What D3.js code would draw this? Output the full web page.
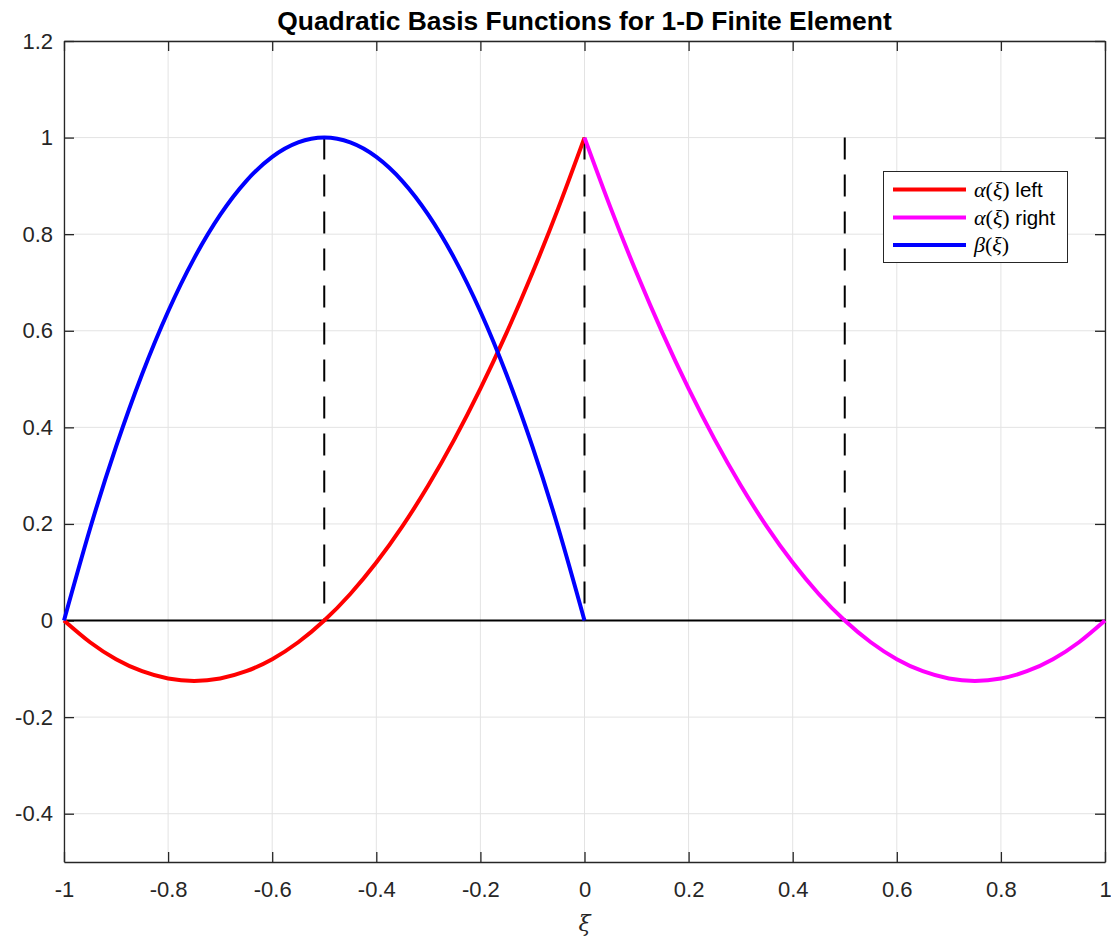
<!DOCTYPE html>
<html>
<head>
<meta charset="utf-8">
<script src="https://cdn.jsdelivr.net/npm/d3@7"></script>
<style>
  html, body { margin: 0; padding: 0; background: #fff; }
  svg { display: block; }
</style>
</head>
<body>
<svg id="chart" width="1111" height="942"></svg>
<script>
// Sample points of the quadratic basis functions
const xiLeft  = [-1, -0.95, -0.9, -0.85, -0.8, -0.75, -0.7, -0.65, -0.6, -0.55, -0.5,
                 -0.45, -0.4, -0.35, -0.3, -0.25, -0.2, -0.15, -0.1, -0.05, 0];
const xiRight = [0, 0.05, 0.1, 0.15, 0.2, 0.25, 0.3, 0.35, 0.4, 0.45, 0.5,
                 0.55, 0.6, 0.65, 0.7, 0.75, 0.8, 0.85, 0.9, 0.95, 1];
const alphaLeft  = [0, -0.045, -0.08, -0.105, -0.12, -0.125, -0.12, -0.105, -0.08, -0.045, 0,
                    0.055, 0.12, 0.195, 0.28, 0.375, 0.48, 0.595, 0.72, 0.855, 1];
const alphaRight = [1, 0.855, 0.72, 0.595, 0.48, 0.375, 0.28, 0.195, 0.12, 0.055, 0,
                    -0.045, -0.08, -0.105, -0.12, -0.125, -0.12, -0.105, -0.08, -0.045, 0];
const betaVals   = [0, 0.19, 0.36, 0.51, 0.64, 0.75, 0.84, 0.91, 0.96, 0.99, 1,
                    0.99, 0.96, 0.91, 0.84, 0.75, 0.64, 0.51, 0.36, 0.19, 0];

// Node markers (dashed verticals) and tick values
const nodeXi = [-0.5, 0, 0.5];
const xTicks = [-1, -0.8, -0.6, -0.4, -0.2, 0, 0.2, 0.4, 0.6, 0.8, 1];
const yTicks = [-0.4, -0.2, 0, 0.2, 0.4, 0.6, 0.8, 1, 1.2];

const titleText = "Quadratic Basis Functions for 1-D Finite Element";

const svg = d3.select("#chart");
const L = 64, R = 1105, T = 41, B = 862;

const x = d3.scaleLinear().domain([-1, 1]).range([L, R]);
const y = d3.scaleLinear().domain([-0.5, 1.2]).range([B, T]);

const axisColor = "#262626";
const font = "'Liberation Sans', Arial, Helvetica, sans-serif";
const fmt = d => String(d);   // plain hyphen-minus labels

// grid
const grid = svg.append("g");
grid.selectAll("line.gx").data(xTicks).join("line")
  .attr("x1", d => x(d)).attr("x2", d => x(d))
  .attr("y1", T).attr("y2", B)
  .attr("stroke", "#e3e3e3").attr("stroke-width", 1);
grid.selectAll("line.gy").data(yTicks).join("line")
  .attr("x1", L).attr("x2", R)
  .attr("y1", d => y(d)).attr("y2", d => y(d))
  .attr("stroke", "#e3e3e3").attr("stroke-width", 1);

// axes (ticks pointing inward, box on)
const tickLen = 10;
const axB = svg.append("g").attr("transform", `translate(0,${B})`)
  .call(d3.axisBottom(x).tickValues(xTicks).tickSizeInner(-tickLen).tickSizeOuter(0)
        .tickPadding(19).tickFormat(fmt));
const axT = svg.append("g").attr("transform", `translate(0,${T})`)
  .call(d3.axisTop(x).tickValues(xTicks).tickSizeInner(-tickLen).tickSizeOuter(0).tickFormat(""));
const axL = svg.append("g").attr("transform", `translate(${L},0)`)
  .call(d3.axisLeft(y).tickValues(yTicks).tickSizeInner(-tickLen).tickSizeOuter(0)
        .tickPadding(11).tickFormat(fmt));
const axR = svg.append("g").attr("transform", `translate(${R},0)`)
  .call(d3.axisRight(y).tickValues(yTicks).tickSizeInner(-tickLen).tickSizeOuter(0).tickFormat(""));

[axB, axT, axL, axR].forEach(a => {
  a.attr("font-size", 22).attr("font-family", font);
  a.select(".domain").attr("stroke", axisColor).attr("stroke-width", 1.3);
  a.selectAll(".tick line").attr("stroke", axisColor).attr("stroke-width", 1.3);
  a.selectAll(".tick text").attr("fill", axisColor);
});
axB.selectAll(".tick text").attr("dy", "0.71em");

// zero line
svg.append("line")
  .attr("x1", x(-1)).attr("x2", x(1))
  .attr("y1", y(0)).attr("y2", y(0))
  .attr("stroke", "#000").attr("stroke-width", 2);

// dashed node lines
svg.selectAll("line.node").data(nodeXi).join("line")
  .attr("x1", d => x(d)).attr("x2", d => x(d))
  .attr("y1", y(1)).attr("y2", y(0))
  .attr("stroke", "#000").attr("stroke-width", 2)
  .attr("stroke-dasharray", "22 15");

// curves
const line = d3.line().x(d => x(d[0])).y(d => y(d[1])).curve(d3.curveNatural);
const series = [
  { xs: xiLeft,  ys: alphaLeft,  color: "#ff0000" },
  { xs: xiRight, ys: alphaRight, color: "#ff00ff" },
  { xs: xiLeft,  ys: betaVals,   color: "#0000ff" }
];
series.forEach(s => {
  svg.append("path")
    .datum(d3.zip(s.xs, s.ys))
    .attr("d", line)
    .attr("fill", "none")
    .attr("stroke", s.color)
    .attr("stroke-width", 4)
    .attr("stroke-linejoin", "round");
});

// title
svg.append("text")
  .attr("x", (L + R) / 2).attr("y", 30)
  .attr("text-anchor", "middle")
  .attr("font-family", font).attr("font-weight", "bold").attr("font-size", 26.4)
  .attr("fill", "#000")
  .text(titleText);

// x label
svg.append("text")
  .attr("x", x(0)).attr("y", 931)
  .attr("text-anchor", "middle")
  .attr("font-family", "'DejaVu Serif', 'Liberation Serif', serif")
  .attr("font-style", "italic").attr("font-size", 22)
  .attr("fill", axisColor)
  .text("ξ");

// legend
const legendItems = [
  { sym: "α", tail: " left",  color: "#ff0000" },
  { sym: "α", tail: " right", color: "#ff00ff" },
  { sym: "β", tail: "",       color: "#0000ff" }
];
const lg = svg.append("g");
lg.append("rect")
  .attr("x", 883.5).attr("y", 171.5).attr("width", 184).attr("height", 91)
  .attr("fill", "#fff").attr("stroke", axisColor).attr("stroke-width", 1);
const rowY = [189.5, 217.5, 245];
const serif = "'Liberation Serif', 'DejaVu Serif', serif";
legendItems.forEach((d, i) => {
  lg.append("line")
    .attr("x1", 893).attr("x2", 966)
    .attr("y1", rowY[i]).attr("y2", rowY[i])
    .attr("stroke", d.color).attr("stroke-width", 4);
  const t = lg.append("text")
    .attr("x", 974).attr("y", rowY[i] + 7)
    .attr("font-size", 20.5).attr("fill", "#000");
  t.append("tspan").attr("font-family", serif).attr("font-style", "italic").attr("font-size", 22).text(d.sym);
  t.append("tspan").attr("font-family", serif).attr("font-size", 22).text("(");
  t.append("tspan").attr("font-family", serif).attr("font-style", "italic").attr("font-size", 22).text("ξ");
  t.append("tspan").attr("font-family", serif).attr("font-size", 22).text(")");
  if (d.tail) t.append("tspan").attr("font-family", font).text(d.tail);
});
</script>
</body>
</html>
